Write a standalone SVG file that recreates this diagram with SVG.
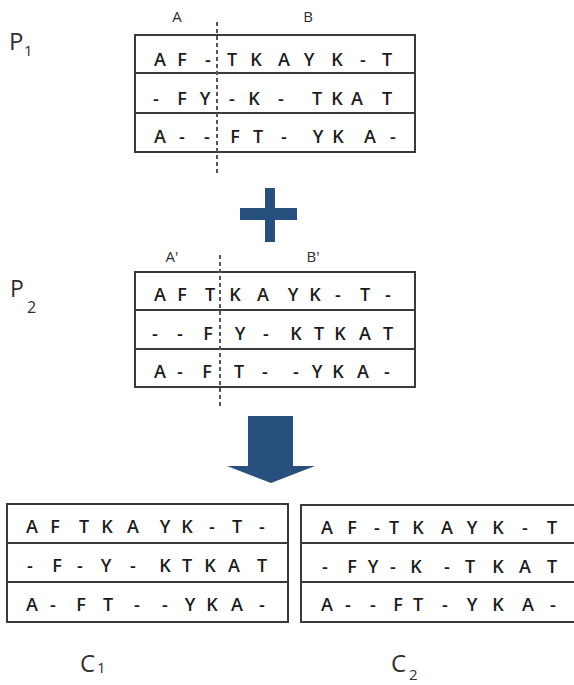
<svg xmlns="http://www.w3.org/2000/svg" width="574" height="685" viewBox="0 0 574 685">
<style>
.box{fill:#fff;stroke:#3a3a3a;stroke-width:2}
.sep{stroke:#3a3a3a;stroke-width:2}
.seq{font-family:"Open Sans","Liberation Sans",sans-serif;font-size:18px;font-weight:600;fill:#1c1c1c;text-anchor:middle}
.lab{font-family:"Open Sans","Liberation Sans",sans-serif;font-size:15px;fill:#303030;text-anchor:middle}
.big{font-family:"Open Sans","Liberation Sans",sans-serif;fill:#303030}
.cut{stroke:#555;stroke-width:2;stroke-dasharray:4 3;fill:none}
.sym{fill:#27507f}
</style>
<rect width="574" height="685" fill="#fff"/>

<g id="P1">
<text class="big" x="9" y="50" font-size="24">P</text>
<text class="big" x="24" y="56" font-size="15">1</text>
<text class="lab" x="177" y="22">A</text>
<text class="lab" x="308" y="22">B</text>
<rect class="box" x="135" y="35" width="280" height="117"/>
<line class="sep" x1="135" y1="73" x2="415" y2="73"/>
<line class="sep" x1="135" y1="113" x2="415" y2="113"/>
<text class="seq" x="160 182 208 232 256 284 309 337 363 387" y="66">AF-TKAYK-T</text>
<text class="seq" x="156 182 205 232 254 281 317 337 357 387" y="105">-FY-K-TKAT</text>
<text class="seq" x="160 182 207 235 258 284 318 338 370 393" y="143">A--FT-YKA-</text>
<line class="cut" x1="217" y1="22" x2="217" y2="173"/>
</g>

<g id="plus">
<rect class="sym" x="240" y="208" width="57" height="12"/>
<rect class="sym" x="265" y="188" width="10" height="54"/>
</g>

<g id="P2">
<text class="big" x="10" y="297" font-size="23">P</text>
<text class="big" x="27" y="313" font-size="16">2</text>
<text class="lab" x="172" y="262">A'</text>
<text class="lab" x="313" y="262">B'</text>
<rect class="box" x="135" y="272" width="280" height="115"/>
<line class="sep" x1="135" y1="310" x2="415" y2="310"/>
<line class="sep" x1="135" y1="349" x2="415" y2="349"/>
<text class="seq" x="160 182 210 235 263 293 315 338 365 388" y="301">AFTKAYK-T-</text>
<text class="seq" x="155 180 208 240 266 296 319 340 365 388" y="340">--FY-KTKAT</text>
<text class="seq" x="160 180 207 239 265 296 317 338 363 387" y="378">A-FT--YKA-</text>
<line class="cut" x1="220" y1="255" x2="220" y2="407"/>
</g>

<g id="arrow">
<polygon class="sym" points="248,416 293,416 293,466 315,466 271,483 227,466 248,466"/>
</g>

<g id="C1">
<rect class="box" x="7" y="504" width="281" height="118"/>
<line class="sep" x1="7" y1="543" x2="288" y2="543"/>
<line class="sep" x1="7" y1="582" x2="288" y2="582"/>
<text class="seq" x="32 55 84 107 133 165 187 212 237 262" y="533">AFTKAYK-T-</text>
<text class="seq" x="30 57 80 106 133 165 187 210 234 262" y="572">-F-Y-KTKAT</text>
<text class="seq" x="32 53 81 108 137 165 190 212 237 262" y="611">A-FT--YKA-</text>
<text class="big" x="80" y="672" font-size="24">C</text>
<text class="big" x="97" y="673" font-size="15">1</text>
</g>

<g id="C2">
<rect class="box" x="301" y="505" width="290" height="117"/>
<line class="sep" x1="301" y1="543" x2="574" y2="543"/>
<line class="sep" x1="301" y1="582" x2="574" y2="582"/>
<text class="seq" x="327 352 377 394 418 447 472 498 525 552" y="534">AF-TKAYK-T</text>
<text class="seq" x="325 352 373 393 416 447 470 498 525 552" y="573">-FY-K-TKAT</text>
<text class="seq" x="327 348 373 398 418 445 472 498 528 553" y="611">A--FT-YKA-</text>
<text class="big" x="391" y="672" font-size="24">C</text>
<text class="big" x="409" y="680" font-size="15">2</text>
</g>
</svg>
